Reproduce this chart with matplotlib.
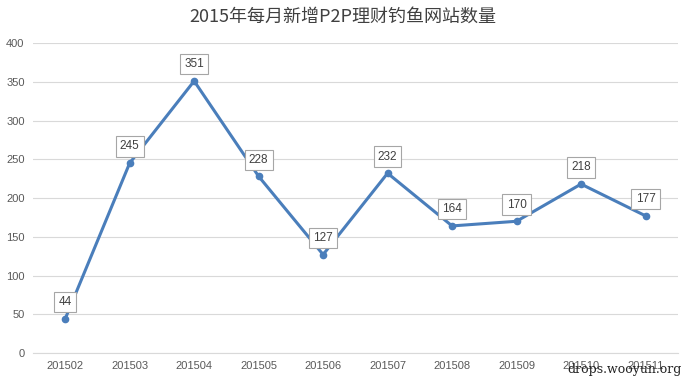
import matplotlib
matplotlib.use('Agg')
import matplotlib.pyplot as plt

months = ['201502', '201503', '201504', '201505', '201506',
          '201507', '201508', '201509', '201510', '201511']
counts = [44, 245, 351, 228, 127, 232, 164, 170, 218, 177]
yticks = [0, 50, 100, 150, 200, 250, 300, 350, 400]

plt.rcParams['font.family'] = ['Noto Sans CJK SC', 'DejaVu Sans']

fig = plt.figure(figsize=(6.86, 3.81), dpi=100)
ax = fig.add_axes([0.048, 0.0735, 0.94, 0.8135])

x = list(range(len(months)))
ax.plot(x, counts, color='#4A7EBB', linewidth=2.2, marker='o',
        markersize=4.5, zorder=3)

# 数据标签，白底灰框
for xi, v in zip(x, counts):
    ax.annotate(str(v), (xi, v), xytext=(0, 12), textcoords='offset points',
                ha='center', va='center', fontsize=8.5, color='#404040',
                family=['Liberation Sans', 'DejaVu Sans'],
                bbox=dict(boxstyle='square,pad=0.35', fc='white',
                          ec='#A6A6A6', lw=0.8),
                zorder=4)

ax.set_xlim(-0.5, len(months) - 0.5)
ax.set_ylim(0, 400)
ax.set_yticks(yticks)
ax.set_xticks(x)
ax.set_xticklabels(months)
ax.grid(axis='y', color='#D9D9D9', linewidth=0.8)
ax.set_axisbelow(True)
for s in ['top', 'right', 'left']:
    ax.spines[s].set_visible(False)
ax.spines['bottom'].set_color('#D9D9D9')
ax.tick_params(length=0, labelsize=8, colors='#595959', pad=6)
for lab in ax.get_xticklabels() + ax.get_yticklabels():
    lab.set_family(['Liberation Sans', 'DejaVu Sans'])

fig.text(0.5, 0.955, '2015年每月新增P2P理财钓鱼网站数量', ha='center',
         va='center', fontsize=13, color='#404040')

# 水印
fig.text(0.994, 0.03, 'drops.wooyun.org', ha='right', va='center',
         fontsize=9, color='#222222', family='DejaVu Serif')

fig.savefig('out.png', dpi=100)
